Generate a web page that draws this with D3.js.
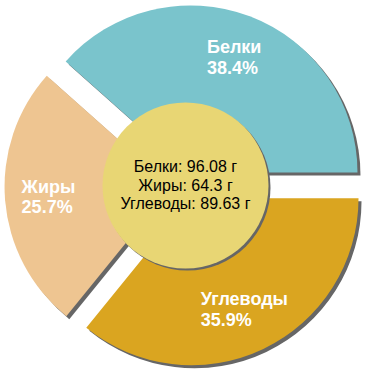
<!DOCTYPE html>
<html>
<head>
<meta charset="utf-8">
<script src="https://cdn.jsdelivr.net/npm/d3@7"></script>
<style>
  html, body { margin: 0; padding: 0; background: #fff; }
  svg { display: block; font-family: "Liberation Sans", Arial, sans-serif; }
</style>
</head>
<body>
<svg id="chart" width="370" height="370"></svg>
<script>
// nutrient data, in drawing order (clockwise from the right-hand horizontal)
var names  = ["Белки", "Углеводы", "Жиры"];
var grams  = [96.08, 89.63, 64.3];
var colors = ["#7ac4cc", "#daa520", "#eec591"];
// centre text lines
var centerNames = ["Белки", "Жиры", "Углеводы"];
var centerGrams = ["96.08", "64.3", "89.63"];

var cx = 185.5, cy = 185.5;
var outerR = 167, explode = 14, labelR = 137;
var innerCircleR = 83;

var total = d3.sum(grams);
var startA = Math.PI / 2 - 2 * Math.PI * grams[0] / total;

var pie = d3.pie()
    .sort(null)
    .startAngle(startA)
    .endAngle(startA + 2 * Math.PI);

var arc = d3.arc()
    .innerRadius(0)
    .outerRadius(outerR);

var svg = d3.select("#chart");
var g = svg.append("g").attr("transform", "translate(" + cx + "," + cy + ")");

var slices = pie(grams);

function offset(d, r) {
  var a = (d.startAngle + d.endAngle) / 2;
  return [Math.sin(a) * r, -Math.cos(a) * r];
}

// shadows
g.selectAll("path.shadow")
  .data(slices)
  .enter().append("path")
    .attr("class", "shadow")
    .attr("d", arc)
    .attr("fill", "#666666")
    .attr("transform", function(d) {
      var o = offset(d, explode);
      return "translate(" + (o[0] + 3) + "," + (o[1] + 3) + ")";
    });

// slices
g.selectAll("path.slice")
  .data(slices)
  .enter().append("path")
    .attr("class", "slice")
    .attr("d", arc)
    .attr("fill", function(d, i) { return colors[i]; })
    .attr("transform", function(d) {
      var o = offset(d, explode);
      return "translate(" + o[0] + "," + o[1] + ")";
    });

// centre disc
g.append("circle")
  .attr("cx", 2).attr("cy", 2)
  .attr("r", innerCircleR)
  .attr("fill", "#666666");
g.append("circle")
  .attr("r", innerCircleR)
  .attr("fill", "#e8d674");

// slice labels, two left-aligned lines centred on the label point
slices.forEach(function(d, i) {
  var p = offset(d, labelR);
  var t = g.append("text")
    .attr("fill", "#ffffff")
    .attr("font-size", 18)
    .attr("font-weight", "bold")
    .attr("text-anchor", "start");
  t.append("tspan").attr("x", 0).attr("y", p[1] - 4).text(names[i]);
  t.append("tspan").attr("x", 0).attr("y", p[1] + 16.5)
    .text((100 * grams[i] / total).toFixed(1) + "%");
  var w = t.node().getBBox().width;
  t.selectAll("tspan").attr("x", p[0] - w / 2);
});

// centre text
var ct = g.append("text")
  .attr("fill", "#000000")
  .attr("font-size", 16)
  .attr("text-anchor", "middle");
centerNames.forEach(function(n, i) {
  ct.append("tspan")
    .attr("x", 0)
    .attr("y", 5 + (i - 1) * 18.5)
    .text(n + ": " + centerGrams[i] + " г");
});
</script>
</body>
</html>
